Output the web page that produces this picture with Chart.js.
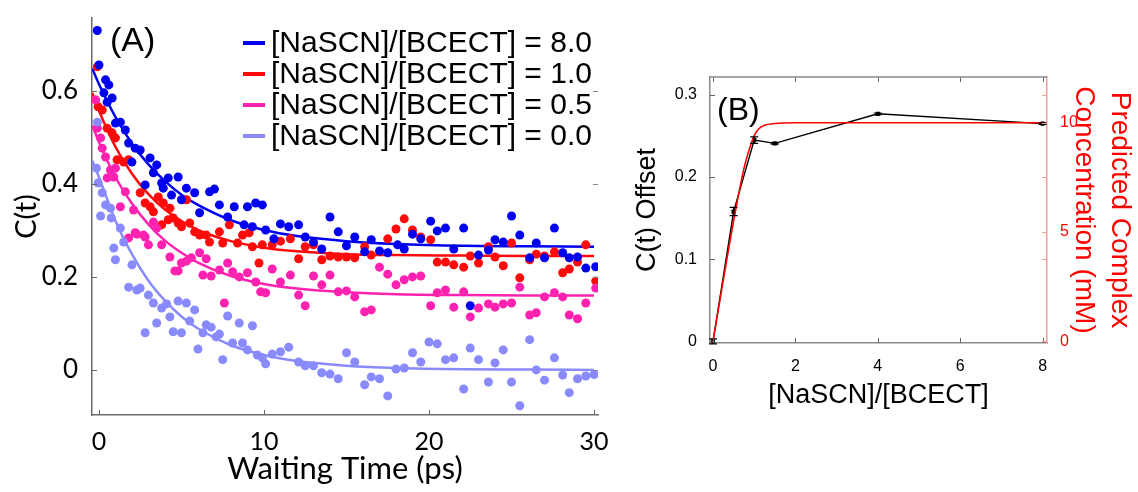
<!DOCTYPE html>
<html>
<head>
<meta charset="utf-8">
<script src="https://cdn.jsdelivr.net/npm/chart.js@4"></script>
<style>
  body { margin: 0; background: #fff; width: 1138px; height: 492px; overflow: hidden; position: relative; }
  canvas { position: absolute; top: 0; }
  #panelA { left: 0; }
  #panelB { left: 620px; }
</style>
</head>
<body>
<canvas id="panelA" width="610" height="492"></canvas>
<canvas id="panelB" width="518" height="492"></canvas>
<script>
/* ======================================================================
DATA - panel A (C(t) decays)
====================================================================== */
const legendLabels = ['[NaSCN]/[BCECT] = 8.0', '[NaSCN]/[BCECT] = 1.0',
  '[NaSCN]/[BCECT] = 0.5', '[NaSCN]/[BCECT] = 0.0'];

const blueT = [-0.1, 0.0, 0.3, 0.4, 0.5, 0.6, 0.8, 1.0, 1.3, 1.6, 1.8, 2.0, 2.2, 2.5, 2.8, 3.1, 3.3, 3.5,
  3.8, 3.9, 4.2, 4.4, 4.8, 5.0, 5.3, 5.8, 6.1, 6.7, 7.0, 7.3, 7.8, 8.2, 8.8, 9.0, 9.3, 9.5, 9.9,
  10.1, 10.6, 11.0, 11.5, 12.1, 12.5, 13.0, 13.5, 14.0, 14.5, 15.0, 15.5, 16.1, 16.5, 17.0, 17.5,
  18.1, 18.5, 19.0, 19.5, 20.1, 20.5, 21.0, 21.5, 22.1, 22.5, 23.0, 23.6, 24.0, 24.5, 25.0, 25.5,
  26.1, 26.5, 27.0, 27.6, 28.1, 28.5, 29.0, 29.5, 30.1];
const blueC = [0.73, 0.656, 0.596, 0.624, 0.576, 0.613, 0.585, 0.531, 0.533, 0.516, 0.488, 0.447, 0.477,
  0.473, 0.398, 0.456, 0.424, 0.441, 0.402, 0.391, 0.413, 0.376, 0.415, 0.366, 0.391, 0.381, 0.338,
  0.383, 0.389, 0.355, 0.329, 0.351, 0.312, 0.351, 0.308, 0.359, 0.355,
  0.301, 0.282, 0.314, 0.308, 0.312, 0.286, 0.275, 0.260, 0.329, 0.297, 0.267, 0.286, 0.254, 0.280,
  0.256, 0.252, 0.269, 0.260, 0.292, 0.282, 0.320, 0.299, 0.305, 0.260, 0.305, 0.138, 0.247, 0.258,
  0.280, 0.275, 0.331, 0.290, 0.241, 0.273, 0.241, 0.305, 0.252, 0.241, 0.243, 0.219, 0.222];

const redT = [-0.1, -0.05, 0.2, 0.5, 0.8, 1.0, 1.1, 1.5, 1.8, 2.5, 2.8, 3.1, 3.3, 3.6, 3.8, 3.9, 4.2, 4.3,
  4.5, 4.8, 5.0, 5.3, 5.5, 5.8, 6.1, 6.5, 6.7, 7.3, 7.5, 7.9, 8.4, 8.7, 9.1, 9.3, 9.7, 9.9,
  10.5, 11.0, 11.6, 12.1, 12.5, 13.0, 13.5, 14.0, 14.5, 15.0, 15.5, 16.1, 16.5, 17.5, 18.0, 18.5,
  19.0, 19.5, 20.1, 20.5, 21.0, 21.5, 22.1, 22.5, 23.0, 23.6, 24.0, 24.5, 25.0, 25.5, 26.1, 26.5,
  27.0, 27.6, 28.1, 28.5, 29.0, 29.5, 30.1];
const redC = [0.652, 0.566, 0.559, 0.520, 0.510, 0.499, 0.452, 0.447, 0.452, 0.381, 0.359, 0.351, 0.340,
  0.372, 0.312, 0.359, 0.323, 0.348, 0.327, 0.316, 0.308, 0.366, 0.316, 0.297, 0.290, 0.290, 0.275,
  0.297, 0.273, 0.312, 0.273, 0.290, 0.295, 0.265, 0.230, 0.269,
  0.269, 0.277, 0.282, 0.239, 0.265, 0.269, 0.237, 0.245, 0.243, 0.243, 0.241, 0.265, 0.247, 0.282,
  0.303, 0.325, 0.301, 0.286, 0.280, 0.232, 0.232, 0.226, 0.221, 0.245, 0.230, 0.265, 0.243, 0.224,
  0.273, 0.198, 0.237, 0.249, 0.245, 0.254, 0.209, 0.217, 0.232, 0.269, 0.191];

const pinkT = [-0.2, -0.1, 0.1, 0.2, 0.4, 0.5, 0.7, 0.9, 1.0, 1.3, 1.6, 1.8, 2.1, 2.2, 2.3, 2.7, 2.8, 3.0,
  3.3, 3.5, 3.8, 4.3, 4.6, 4.8, 5.0, 5.3, 5.6, 6.1, 6.3, 6.5, 6.8, 7.3, 7.6, 7.8, 8.1, 8.5, 9.0,
  9.5, 9.8, 10.1, 10.5, 11.0, 11.6, 12.1, 12.5, 13.0, 13.5, 14.0, 14.5, 15.0, 15.5, 16.1, 16.5,
  17.0, 17.5, 18.0, 18.5, 19.0, 19.5, 20.1, 20.5, 21.0, 21.5, 22.1, 22.5, 23.0, 23.6, 24.0, 24.5,
  25.0, 25.5, 26.1, 26.5, 27.0, 27.6, 28.1, 28.5, 29.0, 29.5, 30.1];
const pinkC = [0.581, 0.520, 0.499, 0.477, 0.458, 0.413, 0.430, 0.415, 0.434, 0.351, 0.383, 0.284, 0.344,
  0.295, 0.292, 0.290, 0.286, 0.269, 0.318, 0.305, 0.269, 0.243, 0.213, 0.213, 0.230, 0.234, 0.241,
  0.252, 0.204, 0.239, 0.202, 0.215, 0.144, 0.230, 0.211, 0.200, 0.209, 0.189, 0.168,
  0.166, 0.217, 0.189, 0.204, 0.161, 0.138, 0.202, 0.183, 0.204, 0.168, 0.170, 0.157, 0.125, 0.129,
  0.221, 0.206, 0.183, 0.194, 0.200, 0.202, 0.138, 0.166, 0.172, 0.135, 0.168, 0.114, 0.133, 0.142,
  0.135, 0.142, 0.144, 0.178, 0.118, 0.123, 0.157, 0.166, 0.157, 0.118, 0.110, 0.144, 0.176];

const lavT = [-0.15, -0.1, -0.05, 0.1, 0.2, 0.4, 0.7, 0.75, 0.9, 1.0, 1.3, 1.5, 1.8, 2.0, 2.3, 2.5, 2.8,
  3.0, 3.3, 3.5, 3.8, 4.1, 4.3, 4.5, 4.8, 5.0, 5.3, 5.5, 5.8, 6.0, 6.3, 6.5, 6.8, 7.1, 7.3, 7.5,
  7.8, 8.1, 8.5, 8.7, 9.0, 9.3, 9.6, 9.9, 10.1, 10.5, 11.0, 11.5, 12.1, 12.5, 13.0, 13.5, 14.0,
  14.5, 15.0, 15.5, 16.1, 16.5, 17.0, 17.5, 18.0, 18.5, 19.0, 19.5, 20.0, 20.5, 21.0, 21.5, 22.1,
  22.5, 23.0, 23.6, 24.0, 24.5, 25.0, 25.5, 26.1, 26.5, 27.0, 27.6, 28.1, 28.5, 29.0, 29.5, 30.0];
const lavC = [0.434, 0.533, 0.402, 0.331, 0.381, 0.355, 0.348, 0.327, 0.262, 0.237, 0.305, 0.275, 0.178,
  0.226, 0.172, 0.176, 0.080, 0.161, 0.144, 0.101, 0.133, 0.142, 0.114, 0.082, 0.148, 0.080, 0.144,
  0.105, 0.129, 0.045, 0.080, 0.097, 0.092, 0.071, 0.077, 0.022, 0.116, 0.058, 0.101, 0.058, 0.043,
  0.095, 0.032, 0.026, 0.013, 0.034, 0.039, 0.049, 0.017, 0.009, 0.009, -0.006, -0.009, -0.019,
  0.037, 0.017, -0.032, -0.015, -0.019, -0.056, 0.002, 0.004, 0.037, 0.017, 0.060, 0.056, 0.022,
  0.026, -0.041, 0.047, 0.022, -0.026, 0.015, 0.043, -0.026, -0.077, 0.065, 0.000, -0.022, 0.026,
  -0.011, -0.049, -0.019, -0.013, -0.010];

// fitted exponential curves
const fitT = [-0.4, 0, 1, 2, 3, 4, 5, 6, 8, 10, 12, 15, 18, 22, 26, 30];
const fitBlue = [0.648, 0.615, 0.544, 0.487, 0.442, 0.406, 0.377, 0.355, 0.322, 0.301, 0.288, 0.277, 0.271, 0.267, 0.266, 0.265];
const fitRed = [0.596, 0.558, 0.480, 0.422, 0.378, 0.345, 0.320, 0.301, 0.277, 0.263, 0.255, 0.249, 0.247, 0.246, 0.245, 0.245];
const fitPink = [0.526, 0.490, 0.415, 0.358, 0.313, 0.278, 0.252, 0.231, 0.202, 0.185, 0.175, 0.167, 0.163, 0.161, 0.160, 0.160];
const fitLav = [0.45, 0.415, 0.321, 0.249, 0.192, 0.149, 0.115, 0.089, 0.053, 0.032, 0.019, 0.009, 0.004, 0.0015, 0.001, 0.0];

const xTicksA = [0, 10, 20, 30];
const yTicksA = [0, 0.2, 0.4, 0.6];
const yLabelsA = ['0', '0.2', '0.4', '0.6'];

/* ======================================================================
DATA - panel B (offset vs ratio)
====================================================================== */
const ratioX = [0, 0.5, 1.0, 1.5, 4, 8];
const offsetC = [0.0, 0.158, 0.245, 0.241, 0.277, 0.265];
const offsetErr = [0.003, 0.005, 0.004, 0.001, 0.001, 0.001];
const predX = [0, 0.25, 0.5, 0.75, 0.9, 1.0, 1.1, 1.25, 1.5, 2, 3, 4, 6, 8];
const predConc = [0, 2.8, 5.5, 7.9, 8.9, 9.4, 9.7, 9.88, 9.96, 10, 10, 10, 10, 10];

const xTicksB = [0, 2, 4, 6, 8];
const yTicksB = [0, 0.1, 0.2, 0.3];
const yLabelsB = ['0', '0.1', '0.2', '0.3'];
const y1TicksB = [0, 5, 10];

/* ======================================================================
Colours
====================================================================== */
const cBlue = '#0000f0';
const cRed = '#ff0a0a';
const cPink = '#ff22b0';
const cLav = '#8a8aff';
// legend order: 8.0, 1.0, 0.5, 0.0
const legendColors = [cBlue, cRed, cPink, cLav];

function zip(xs, ys) {
  return xs.map((x, i) => ({ x: x, y: ys[i] }));
}

/* ======================================================================
Plugins
====================================================================== */
// short tick marks pointing into the plot
const inwardTicks = {
  id: 'inwardTicks',
  afterDraw(chart, args, opts) {
    const ctx = chart.ctx;
    const a = chart.chartArea;
    const L = opts.len || 5;
    ctx.save();
    ctx.lineWidth = 1;
    (opts.marks || []).forEach(m => {
      const s = chart.scales[m.scale];
      ctx.strokeStyle = m.color;
      s.ticks.forEach(t => {
        const p = Math.round(s.getPixelForValue(t.value)) + 0.5;
        ctx.beginPath();
        if (m.edge === 'bottom') { ctx.moveTo(p, a.bottom); ctx.lineTo(p, a.bottom - L); }
        if (m.edge === 'top') { ctx.moveTo(p, a.top); ctx.lineTo(p, a.top + L); }
        if (m.edge === 'left') { ctx.moveTo(a.left, p); ctx.lineTo(a.left + L, p); }
        if (m.edge === 'right') { ctx.moveTo(a.right, p); ctx.lineTo(a.right - L, p); }
        ctx.stroke();
      });
    });
    if (opts.topLine) {
      ctx.strokeStyle = opts.topLine;
      ctx.lineWidth = 1.5;
      ctx.beginPath();
      ctx.moveTo(a.left, a.top);
      ctx.lineTo(a.right, a.top);
      ctx.stroke();
    }
    ctx.restore();
  }
};

// panel letter + legend inside panel A
const panelText = {
  id: 'panelText',
  afterDraw(chart, args, opts) {
    const ctx = chart.ctx;
    ctx.save();
    ctx.textBaseline = 'middle';
    ctx.fillStyle = '#000';
    ctx.font = opts.letterFont;
    ctx.fillText(opts.letter, opts.letterX, opts.letterY);
    if (opts.legend) {
      ctx.font = '30px "Liberation Sans"';
      legendLabels.forEach((lab, i) => {
        const y = 43 + i * 31;
        ctx.strokeStyle = legendColors[i];
        ctx.lineWidth = 4;
        ctx.beginPath();
        ctx.moveTo(243, y);
        ctx.lineTo(265, y);
        ctx.stroke();
        ctx.fillStyle = '#000';
        ctx.fillText(lab, 271, y + 1);
      });
    }
    ctx.restore();
  }
};

// vertical error bars for panel B
const errorBars = {
  id: 'errorBars',
  afterDatasetsDraw(chart) {
    const ctx = chart.ctx;
    const xs = chart.scales.x, ys = chart.scales.y;
    ctx.save();
    ctx.strokeStyle = '#000';
    ctx.lineWidth = 1.2;
    ratioX.forEach((r, i) => {
      const px = xs.getPixelForValue(r);
      const lo = ys.getPixelForValue(offsetC[i] - offsetErr[i]);
      const hi = ys.getPixelForValue(offsetC[i] + offsetErr[i]);
      ctx.beginPath();
      ctx.moveTo(px, lo); ctx.lineTo(px, hi);
      ctx.moveTo(px - 4, lo); ctx.lineTo(px + 4, lo);
      ctx.moveTo(px - 4, hi); ctx.lineTo(px + 4, hi);
      ctx.stroke();
    });
    ctx.restore();
  }
};

function fixTicks(list) {
  return s => { s.ticks = list.map(v => ({ value: v })); };
}
function fixSize(key, size) {
  return s => {
    s[key] = size;
    s.paddingLeft = 0; s.paddingRight = 0; s.paddingTop = 0; s.paddingBottom = 0;
  };
}

/* ======================================================================
Panel A
====================================================================== */
const scatterStyle = (label, t, c, col) => ({
  label: label, data: zip(t, c), backgroundColor: col, borderColor: col,
  pointRadius: 4.5, pointBorderWidth: 0, showLine: false
});
const fitStyle = (ys, col) => ({
  data: zip(fitT, ys), borderColor: col, backgroundColor: col, borderWidth: 2.5,
  pointRadius: 0, showLine: true, cubicInterpolationMode: 'monotone'
});

new Chart(document.getElementById('panelA'), {
  type: 'scatter',
  data: {
    datasets: [
      scatterStyle(legendLabels[3], lavT, lavC, cLav),
      scatterStyle(legendLabels[2], pinkT, pinkC, cPink),
      scatterStyle(legendLabels[0], blueT, blueC, cBlue),
      scatterStyle(legendLabels[1], redT, redC, cRed),
      fitStyle(fitLav, cLav),
      fitStyle(fitPink, cPink),
      fitStyle(fitBlue, cBlue),
      fitStyle(fitRed, cRed)
    ]
  },
  options: {
    responsive: false,
    animation: false,
    layout: { padding: { top: 18, right: 12, left: 0, bottom: 0 } },
    plugins: {
      legend: { display: false },
      tooltip: { enabled: false },
      inwardTicks: {
        len: 5,
        marks: [
          { scale: 'x', edge: 'bottom', color: '#666' },
          { scale: 'y', edge: 'left', color: '#666' },
          { scale: 'y', edge: 'right', color: '#888' }
        ]
      },
      panelText: { letter: '(A)', letterX: 110, letterY: 42, letterFont: '34px "Liberation Sans"', legend: true }
    },
    scales: {
      x: {
        type: 'linear', min: -0.42, max: 30.24,
        afterBuildTicks: fixTicks(xTicksA),
        afterFit: fixSize('height', 77),
        grid: { display: false },
        border: { display: true, color: '#6a6a6a', width: 1.5 },
        ticks: { font: { family: 'Lato', size: 25 }, color: '#000', padding: 4, maxRotation: 0 },
        title: { display: true, text: 'Waiting Time (ps)', font: { family: 'Lato', size: 31 }, color: '#000', padding: { top: 0, bottom: 4 } }
      },
      y: {
        type: 'linear', min: -0.097, max: 0.757,
        afterBuildTicks: fixTicks(yTicksA),
        afterFit: fixSize('width', 92),
        grid: { display: false },
        border: { display: true, color: '#6a6a6a', width: 1.5 },
        ticks: { font: { family: 'Lato', size: 26 }, color: '#000', padding: 6, callback: (v, i) => yLabelsA[i] },
        title: { display: true, text: 'C(t)', font: { family: 'Lato', size: 29 }, color: '#000', padding: { top: 9, bottom: 0 } }
      }
    }
  },
  plugins: [inwardTicks, panelText]
});

/* ======================================================================
Panel B
====================================================================== */
new Chart(document.getElementById('panelB'), {
  type: 'scatter',
  data: {
    datasets: [
      {
        data: zip(predX, predConc), yAxisID: 'y1', borderColor: '#ff0000', backgroundColor: '#ff0000',
        borderWidth: 1.6, pointRadius: 0, showLine: true, cubicInterpolationMode: 'monotone'
      },
      {
        data: zip(ratioX, offsetC), yAxisID: 'y', borderColor: '#000', backgroundColor: '#000',
        borderWidth: 1.4, pointRadius: 2, pointStyle: 'rect', showLine: true, tension: 0
      }
    ]
  },
  options: {
    responsive: false,
    animation: false,
    layout: { padding: { top: 77, right: 0, left: 0, bottom: 0 } },
    plugins: {
      legend: { display: false },
      tooltip: { enabled: false },
      inwardTicks: {
        len: 5,
        topLine: '#8a8a8a',
        marks: [
          { scale: 'x', edge: 'bottom', color: '#666' },
          { scale: 'x', edge: 'top', color: '#666' },
          { scale: 'y', edge: 'left', color: '#666' },
          { scale: 'y', edge: 'right', color: '#f2a0a0' },
          { scale: 'y1', edge: 'right', color: '#f2a0a0' }
        ]
      },
      panelText: { letter: '(B)', letterX: 97, letterY: 111, letterFont: '32px "Liberation Sans"', legend: false }
    },
    scales: {
      x: {
        type: 'linear', min: -0.073, max: 8.107,
        afterBuildTicks: fixTicks(xTicksB),
        afterFit: fixSize('height', 149),
        grid: { display: false },
        border: { display: true, color: '#8a8a8a', width: 1.5 },
        ticks: { font: { family: 'Liberation Sans', size: 16 }, color: '#000', padding: 6, maxRotation: 0 },
        title: { display: true, text: '[NaSCN]/[BCECT]', font: { family: 'Liberation Sans', size: 27 }, color: '#000', padding: { top: 0, bottom: 80 } }
      },
      y: {
        type: 'linear', position: 'left', min: -0.002, max: 0.3218,
        afterBuildTicks: fixTicks(yTicksB),
        afterFit: fixSize('width', 90),
        grid: { display: false },
        border: { display: true, color: '#8a8a8a', width: 1.5 },
        ticks: { font: { family: 'Liberation Sans', size: 16 }, color: '#000', padding: 5, callback: (v, i) => yLabelsB[i] },
        title: { display: true, text: 'C(t) Offset', font: { family: 'Liberation Sans', size: 27 }, color: '#000', padding: { top: 11, bottom: 0 } }
      },
      y1: {
        type: 'linear', position: 'right', min: -0.08, max: 12.09,
        afterBuildTicks: fixTicks(y1TicksB),
        afterFit: fixSize('width', 91),
        grid: { display: false },
        border: { display: true, color: '#f2a0a0', width: 1.5 },
        ticks: { font: { family: 'Liberation Sans', size: 16 }, color: '#ff0000', padding: 5 },
        title: {
          display: true, text: ['Predicted Complex', 'Concentration (mM)'],
          font: { family: 'Liberation Sans', size: 28, lineHeight: 1.3 }, color: '#ff0000', padding: { top: 0, bottom: 0 }
        }
      }
    }
  },
  plugins: [inwardTicks, panelText, errorBars]
});
</script>
</body>
</html>
